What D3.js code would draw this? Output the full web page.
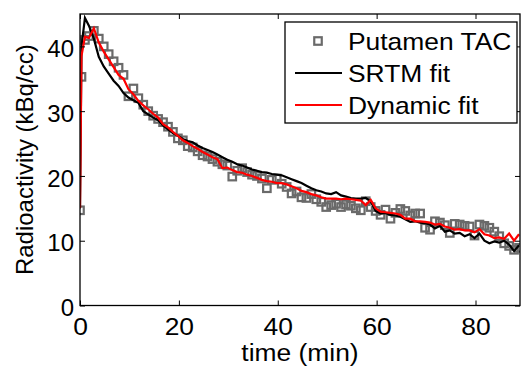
<!DOCTYPE html>
<html>
<head>
<meta charset="utf-8">
<script src="https://cdn.jsdelivr.net/npm/d3@7/dist/d3.min.js"></script>
<style>
  body { margin: 0; background: #fff; }
  text { font-family: "Liberation Sans", Arial, Helvetica, sans-serif; }
</style>
</head>
<body>
<div id="chart"></div>
<script>
// frame mid times (min)
const timeMin = [0, 0.3, 1, 1.8, 2.8, 3.8, 4.8, 5.8, 6.8, 7.8, 8.8, 9.8,
  10.8, 11.8, 12.8, 13.8, 14.8, 15.8, 16.8, 17.8, 18.8, 19.8,
  20.8, 21.8, 22.8, 23.8, 24.8, 25.8, 26.8, 27.8, 28.8, 29.8,
  30.8, 31.8, 32.8, 33.8, 34.8, 35.8, 36.8, 37.8, 38.8, 39.8,
  40.8, 41.8, 42.8, 43.8, 44.8, 45.8, 46.8, 47.8, 48.8, 49.8,
  50.8, 51.8, 52.8, 53.8, 54.8, 55.8, 56.8, 57.8, 58.8, 59.8,
  60.8, 61.8, 62.8, 63.8, 64.8, 65.8, 66.8, 67.8, 68.8, 69.8,
  70.8, 71.8, 72.8, 73.8, 74.8, 75.8, 76.8, 77.8, 78.8, 79.8,
  80.8, 81.8, 82.8, 83.8, 84.8, 85.8, 86.8, 87.8, 88.8];

const tacValues = [14.7, 35.3, 41.0, 41.6, 42.4, 41.2, 40.0, 38.8, 37.7, 36.7, 35.6, 32.3,
  33.5, 32.0, 31.0, 30.0, 29.3, 28.8, 28.3, 27.6, 26.8, 25.8,
  25.5, 24.6, 24.4, 23.8, 23.2, 23.0, 22.6, 22.2, 21.8, 21.6,
  19.9, 20.8, 21.2, 20.6, 20.2, 20.0, 19.6, 18.1, 19.4, 19.6,
  18.8, 18.3, 17.3, 17.6, 16.7, 16.6, 17.2, 16.4, 16.0, 15.2,
  15.5, 15.7, 15.2, 15.6, 15.4, 15.0, 14.7, 16.1, 15.2, 14.6,
  14.0, 14.8, 13.4, 14.3, 14.9, 14.6, 13.9, 14.2, 14.2, 12.0,
  11.7, 13.0, 12.8, 12.4, 11.2, 12.6, 12.5, 12.3, 12.2, 10.8,
  12.5, 12.3, 12.0, 11.4, 10.7, 9.6, 9.2, 8.6, 8.9];

const srtmValues = [15.0, 40.0, 44.4, 43.2, 41.2, 38.4, 36.9, 35.8, 34.7, 33.9, 32.8, 32.1,
  31.7, 31.3, 30.0, 29.5, 29.0, 28.6, 27.8, 27.2, 26.6, 26.2,
  25.7, 25.4, 25.2, 24.7, 24.3, 24.0, 23.7, 23.3, 22.9, 22.5,
  22.2, 21.8, 21.6, 21.3, 21.0, 20.8, 20.6, 20.5, 20.3, 20.2,
  20.1, 19.8, 19.5, 19.2, 18.9, 18.5, 18.1, 17.8, 17.6, 17.3,
  17.2, 17.5, 17.0, 16.8, 16.6, 16.5, 16.5, 16.6, 16.1, 14.6,
  14.2, 14.3, 14.0, 13.9, 13.7, 13.3, 12.9, 13.0, 12.8, 12.7,
  12.5, 11.9, 12.3, 11.4, 11.6, 11.1, 11.2, 10.7, 11.0, 10.4,
  11.1, 10.0, 9.6, 9.9, 9.7, 10.0, 9.4, 8.4, 9.3];

const dynamicValues = [15.0, 38.5, 41.5, 41.3, 42.8, 40.6, 39.2, 38.0, 36.8, 35.6, 35.0, 33.4,
  32.6, 31.6, 30.9, 30.3, 29.6, 29.0, 28.0, 27.5, 26.8, 26.2,
  25.5, 25.1, 24.6, 24.2, 23.7, 23.3, 22.9, 22.6, 21.2, 21.3,
  20.9, 20.6, 20.5, 20.2, 20.0, 19.7, 19.4, 19.2, 19.1, 18.9,
  18.9, 18.7, 18.4, 18.1, 17.7, 17.5, 17.2, 17.0, 16.7, 16.5,
  16.5, 16.5, 16.4, 16.5, 16.4, 16.3, 16.2, 15.5, 16.3, 15.0,
  14.5, 14.4, 14.3, 14.2, 14.0, 13.4, 13.4, 13.0, 13.0, 12.9,
  12.8, 12.5, 12.6, 12.2, 12.0, 11.7, 11.8, 11.6, 11.6, 11.3,
  11.8, 11.0, 10.8, 10.4, 10.5, 10.3, 11.1, 10.0, 11.0];

const xTicks = [0, 20, 40, 60, 80];
const yTicks = [0, 10, 20, 30, 40];
const legendLabels = ["Putamen TAC", "SRTM fit", "Dynamic fit"];

const width = 521, height = 367;
const plotLeft = 80, plotRight = 520, plotTop = 14, plotBottom = 305.5;
const fontSize = 24;
const stretch = "scale(1.1,1)";

const svg = d3.select("#chart").append("svg")
  .attr("width", width)
  .attr("height", height);

const x = d3.scaleLinear().domain([0, 89]).range([plotLeft, plotRight]);
const y = d3.scaleLinear().domain([0, 45]).range([plotBottom, plotTop]);

const tac = timeMin.map((t, i) => ({ t: t, v: tacValues[i] }));
const srtm = timeMin.map((t, i) => ({ t: t, v: srtmValues[i] }));
const dyn = timeMin.map((t, i) => ({ t: t, v: dynamicValues[i] }));

// clip to axes box
svg.append("clipPath").attr("id", "plotClip")
  .append("rect")
  .attr("x", plotLeft).attr("y", plotTop)
  .attr("width", plotRight - plotLeft).attr("height", plotBottom - plotTop);

const plot = svg.append("g").attr("clip-path", "url(#plotClip)");

// data squares
plot.selectAll("rect.tac")
  .data(tac)
  .enter()
  .append("rect")
  .attr("class", "tac")
  .attr("x", d => x(d.t) - 3.75)
  .attr("y", d => y(d.v) - 3.75)
  .attr("width", 7.5)
  .attr("height", 7.5)
  .attr("fill", "none")
  .attr("stroke", "#6a6a6a")
  .attr("stroke-width", 2.2);

const line = d3.line().x(d => x(d.t)).y(d => y(d.v));

plot.append("path")
  .datum(srtm)
  .attr("d", line)
  .attr("fill", "none")
  .attr("stroke", "#000")
  .attr("stroke-width", 2.2);

plot.append("path")
  .datum(dyn)
  .attr("d", line)
  .attr("fill", "none")
  .attr("stroke", "#ff0000")
  .attr("stroke-width", 2.2);

// axes (ticks point inward, MATLAB style)
const xAxis = svg.append("g")
  .attr("transform", "translate(0," + plotBottom + ")")
  .call(d3.axisBottom(x).tickValues(xTicks).tickSizeInner(-5).tickSizeOuter(0).tickPadding(12.5));

const yAxis = svg.append("g")
  .attr("transform", "translate(" + plotLeft + ",0)")
  .call(d3.axisLeft(y).tickValues(yTicks).tickSizeInner(-5).tickSizeOuter(0).tickPadding(6));

svg.append("g")
  .attr("transform", "translate(0," + plotTop + ")")
  .call(d3.axisTop(x).tickValues(xTicks).tickSizeInner(-5).tickSizeOuter(0).tickFormat(""));

svg.append("g")
  .attr("transform", "translate(" + plotRight + ",0)")
  .call(d3.axisRight(y).tickValues(yTicks).tickSizeInner(-5).tickSizeOuter(0).tickFormat(""));

svg.selectAll(".domain").remove();
svg.selectAll(".tick line").attr("stroke", "#000").attr("stroke-width", 1);

xAxis.selectAll("text")
  .attr("font-size", fontSize)
  .attr("font-family", "Liberation Sans, Arial, sans-serif")
  .attr("fill", "#000")
  .attr("transform", stretch);

yAxis.selectAll("text")
  .attr("font-size", fontSize)
  .attr("font-family", "Liberation Sans, Arial, sans-serif")
  .attr("fill", "#000")
  .attr("dy", "0.42em");

// box
svg.append("rect")
  .attr("x", plotLeft).attr("y", plotTop)
  .attr("width", plotRight - plotLeft).attr("height", plotBottom - plotTop)
  .attr("fill", "none")
  .attr("stroke", "#000")
  .attr("stroke-width", 1.3);

// axis labels
svg.append("text")
  .attr("transform", "translate(" + (plotLeft + plotRight) / 2 + ",361) " + stretch)
  .attr("text-anchor", "middle")
  .attr("font-size", fontSize)
  .text("time (min)");

svg.append("text")
  .attr("transform", "translate(33," + (plotTop + plotBottom) / 2 + ") rotate(-90)")
  .attr("text-anchor", "middle")
  .attr("font-size", fontSize)
  .text("Radioactivity (kBq/cc)");

// legend
const legend = svg.append("g");
legend.append("rect")
  .attr("x", 285).attr("y", 22)
  .attr("width", 232).attr("height", 101)
  .attr("fill", "#fff")
  .attr("stroke", "#000")
  .attr("stroke-width", 1.3);

const rowY = [41, 73, 105];
const rows = legend.selectAll("g.row")
  .data(legendLabels)
  .enter()
  .append("g")
  .attr("class", "row")
  .attr("transform", (d, i) => "translate(0," + rowY[i] + ")");

rows.filter((d, i) => i === 0)
  .append("rect")
  .attr("x", 318 - 3.75).attr("y", -3.75)
  .attr("width", 7.5).attr("height", 7.5)
  .attr("fill", "none")
  .attr("stroke", "#6a6a6a")
  .attr("stroke-width", 2.2);

rows.filter((d, i) => i > 0)
  .append("line")
  .attr("x1", 295).attr("x2", 342)
  .attr("y1", 0).attr("y2", 0)
  .attr("stroke", (d, i) => i === 0 ? "#000" : "#ff0000")
  .attr("stroke-width", 2.2);

rows.append("text")
  .attr("transform", "translate(348,8.5) " + stretch)
  .attr("font-size", fontSize)
  .text(d => d);
</script>
</body>
</html>
